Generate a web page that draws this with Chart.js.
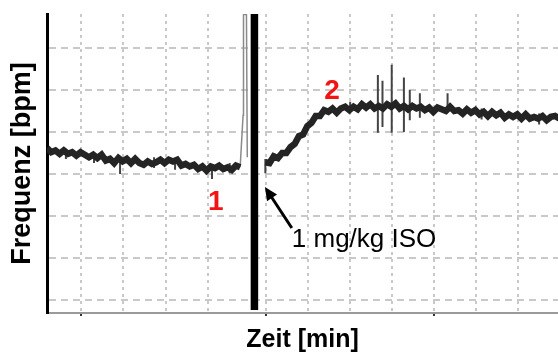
<!DOCTYPE html>
<html>
<head>
<meta charset="utf-8">
<script src="https://cdn.jsdelivr.net/npm/chart.js@4.4.1/dist/chart.umd.min.js"></script>
<style>
  html, body { margin: 0; padding: 0; background: #fff; }
  #wrap { width: 558px; height: 354px; }
</style>
</head>
<body>
<div id="wrap"><canvas id="hr" width="558" height="354"></canvas></div>
<script>
// heart rate trace, sampled every 0.1 min
var sampleStep = 0.1;
var beforeStart = 0;
var hrBefore = [481, 476, 478, 474, 478, 474, 476, 472, 476, 473, 470, 473, 469, 473, 466, 468,
    463, 469, 465, 468, 463, 468, 463, 461, 465, 462, 464, 467, 463, 467, 465, 467, 460, 462,
    459, 461, 456, 459, 454, 459, 457, 460, 456, 458, 455, 460, 458];
var afterStart = 5.2;
var hrAfter = [464, 463, 471, 469, 475, 475, 482, 486, 495, 497, 507, 511, 519, 519, 526, 524,
    528, 523, 528, 530, 526, 530, 527, 533, 529, 533, 528, 531, 528, 533, 530, 534, 528, 531,
    527, 531, 528, 530, 526, 529, 524, 529, 527, 525, 530, 525, 526, 522, 527, 523, 526, 521,
    524, 519, 524, 520, 523, 517, 521, 518, 521, 516, 521, 516, 518, 516, 519, 514, 518, 519, 516];

// artefact spikes: [time, high, low]
var spikes = [
    [0.45, 480, 468], [1.12, 476, 463], [1.74, 468, 450], [2.55, 470, 457], [3.05, 466, 455],
    [3.93, 462, 444], [4.35, 463, 451], [5.20, 468, 451],
    [7.22, 536, 522], [7.88, 568, 499], [7.99, 561, 506], [8.21, 580, 499], [8.50, 565, 500],
    [8.64, 550, 514], [8.88, 546, 517], [9.54, 546, 524], [10.35, 528, 515], [11.72, 522, 509]
];

// injection artefact and marker
var injTimes = [4.60, 4.67, 4.68, 4.75, 4.77];
var injValues = [458, 520, 640, 640, 470];
var injectionTime = 4.94;

var xGrid = [0.81, 1.81, 2.83, 3.83, 5.21, 6.21, 7.21, 8.21, 9.21, 10.21, 11.21];
var xMarked = [0.81, 5.21, 9.21];
var yGrid = [300, 350, 400, 450, 500, 550, 600];

var yMin = 284.5, yMax = 640.5;
var xMin = 0, xMax = 12.17;

function toPoints(start, values) {
    return values.map(function(v, i) {
        return { x: +(start + i * sampleStep).toFixed(2), y: v };
    });
}

var spikePoints = [];
spikes.forEach(function(s) {
    spikePoints.push({ x: s[0], y: s[1] }, { x: s[0], y: s[2] }, { x: s[0], y: null });
});

var FONT = 'Arial, "Liberation Sans", Helvetica, sans-serif';

var annotate = {
    id: 'annotate',
    afterDatasetsDraw: function(chart) {
        var ctx = chart.ctx,
            x = chart.scales.x,
            y = chart.scales.y;

        ctx.save();
        ctx.fillStyle = '#f21414';
        ctx.font = 'bold 28px ' + FONT;
        ctx.textAlign = 'center';
        ctx.textBaseline = 'middle';
        ctx.fillText('1', x.getPixelForValue(4.02), y.getPixelForValue(416.7));
        ctx.fillText('2', x.getPixelForValue(6.79), y.getPixelForValue(548.8));

        // arrow to the injection
        var tx = x.getPixelForValue(5.19), ty = y.getPixelForValue(434.5),
            fx = x.getPixelForValue(5.83), fy = y.getPixelForValue(385.7);
        var ang = Math.atan2(ty - fy, tx - fx);
        ctx.strokeStyle = '#000';
        ctx.fillStyle = '#000';
        ctx.lineWidth = 3;
        ctx.beginPath();
        ctx.moveTo(fx, fy);
        ctx.lineTo(tx - 8 * Math.cos(ang), ty - 8 * Math.sin(ang));
        ctx.stroke();
        ctx.beginPath();
        ctx.moveTo(tx, ty);
        ctx.lineTo(tx - 13 * Math.cos(ang) + 6 * Math.sin(ang), ty - 13 * Math.sin(ang) - 6 * Math.cos(ang));
        ctx.lineTo(tx - 13 * Math.cos(ang) - 6 * Math.sin(ang), ty - 13 * Math.sin(ang) + 6 * Math.cos(ang));
        ctx.closePath();
        ctx.fill();

        ctx.font = '26px ' + FONT;
        ctx.textAlign = 'left';
        ctx.textBaseline = 'alphabetic';
        ctx.fillText('1 mg/kg ISO', x.getPixelForValue(5.83), y.getPixelForValue(363.1));
        ctx.restore();
    }
};

var traceStyle = {
    borderColor: '#242424',
    borderWidth: 6.5,
    pointRadius: 0,
    tension: 0,
    borderJoinStyle: 'miter',
    fill: false
};

new Chart(document.getElementById('hr').getContext('2d'), {
    type: 'line',
    data: {
        datasets: [
            Object.assign({ data: toPoints(beforeStart, hrBefore) }, traceStyle),
            Object.assign({ data: toPoints(afterStart, hrAfter) }, traceStyle),
            {
                data: spikePoints,
                borderColor: '#444',
                borderWidth: 2,
                pointRadius: 0,
                spanGaps: false
            },
            {
                data: injTimes.map(function(t, i) { return { x: t, y: injValues[i] }; }),
                borderColor: '#8a8a8a',
                borderWidth: 1.5,
                pointRadius: 0
            },
            {
                data: [{ x: injectionTime, y: yMax }, { x: injectionTime, y: 288 }],
                borderColor: '#000',
                borderWidth: 7.5,
                borderCapStyle: 'butt',
                pointRadius: 0
            }
        ]
    },
    options: {
        responsive: false,
        devicePixelRatio: 1,
        animation: false,
        layout: { padding: { top: 14, left: 0, right: 0, bottom: 0 } },
        plugins: {
            legend: { display: false },
            tooltip: { enabled: false }
        },
        scales: {
            x: {
                type: 'linear',
                min: xMin,
                max: xMax,
                afterBuildTicks: function(s) {
                    s.ticks = xGrid.map(function(v) { return { value: v }; });
                },
                afterFit: function(s) { s.height = 41; },
                ticks: { display: false },
                grid: {
                    color: '#c9c9c9',
                    lineWidth: 2,
                    drawTicks: true,
                    tickLength: 3,
                    tickWidth: 2,
                    tickColor: function(c) {
                        return c.tick && xMarked.indexOf(c.tick.value) >= 0 ? '#333' : 'rgba(0,0,0,0)';
                    }
                },
                border: { color: '#9a9a9a', width: 2, dash: [3, 4] },
                title: {
                    display: true,
                    text: 'Zeit [min]',
                    color: '#000',
                    font: { family: FONT, size: 25, weight: 'bold', lineHeight: 1.1 },
                    padding: { top: 0, bottom: 0 }
                }
            },
            y: {
                min: yMin,
                max: yMax,
                afterBuildTicks: function(s) {
                    s.ticks = yGrid.map(function(v) { return { value: v }; });
                },
                afterFit: function(s) { s.width = 47; },
                ticks: { display: false },
                grid: { color: '#c9c9c9', lineWidth: 2, drawTicks: false },
                border: { color: '#000', width: 3, dash: [7, 5] },
                title: {
                    display: true,
                    text: 'Frequenz [bpm]',
                    color: '#000',
                    font: { family: FONT, size: 27, weight: 'bold', lineHeight: 1.2 },
                    padding: { top: 6, bottom: 0 }
                }
            }
        }
    },
    plugins: [annotate]
});
</script>
</body>
</html>
